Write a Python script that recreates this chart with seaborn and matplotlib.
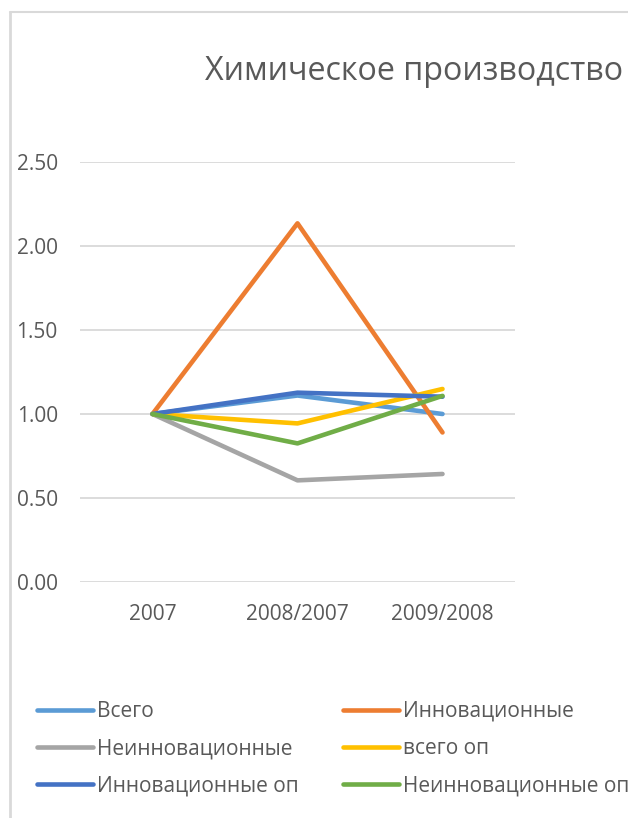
import matplotlib.pyplot as plt
import seaborn as sns
import pandas as pd
from matplotlib.lines import Line2D

# periods on the x axis
periods = ['2007', '2008/2007', '2009/2008']

# series values (indices)
vsego = [1.00, 1.11, 1.00]
innov = [1.00, 2.135, 0.89]
neinnov = [1.00, 0.605, 0.643]
vsego_op = [1.00, 0.944, 1.149]
innov_op = [1.00, 1.127, 1.103]
neinnov_op = [1.00, 0.825, 1.108]

series_names = ['Всего', 'Инновационные', 'Неинновационные',
                'всего оп', 'Инновационные оп', 'Неинновационные оп']
series_vals = [vsego, innov, neinnov, vsego_op, innov_op, neinnov_op]
colors = ['#5B9BD5', '#ED7D31', '#A5A5A5', '#FFC000', '#4472C4', '#70AD47']

rows = []
for name, vals in zip(series_names, series_vals):
    for i, v in enumerate(vals):
        rows.append({'period': i, 'series': name, 'value': v})
df = pd.DataFrame(rows)

sns.set_style('white')
plt.rcParams['font.family'] = ['Open Sans', 'DejaVu Sans']
text_col = '#595959'

fig = plt.figure(figsize=(6.28, 8.18), dpi=100)
ax = fig.add_axes([80 / 628, 1 - 582 / 818, 435 / 628, 420 / 818])

sns.lineplot(data=df, x='period', y='value', hue='series', hue_order=series_names,
             palette=colors, linewidth=3.3, solid_capstyle='round',
             legend=False, ax=ax, zorder=3)

ax.set_xlim(-0.5, 2.5)
ax.set_ylim(0, 2.5)
ax.set_yticks([0, 0.5, 1.0, 1.5, 2.0, 2.5])
ax.set_yticklabels([f'{t:.2f}' for t in [0, 0.5, 1.0, 1.5, 2.0, 2.5]])
ax.set_xticks(range(len(periods)))
ax.set_xticklabels(periods)
ax.grid(axis='y', color='#D9D9D9', linewidth=1.3)
ax.grid(axis='x', visible=False)
for s in ax.spines.values():
    s.set_visible(False)
ax.tick_params(axis='both', length=0, labelsize=15, labelcolor=text_col)
ax.tick_params(axis='y', pad=16)
ax.tick_params(axis='x', pad=16)
ax.set_xlabel('')
ax.set_ylabel('')

fig.text(205 / 628, 1 - 71 / 818, 'Химическое производство', fontsize=23.2,
         color=text_col, ha='left', va='center')

# legend, row-major like the original
handles = [Line2D([], [], color=c, linewidth=3.3, solid_capstyle='round') for c in colors]
order = [0, 2, 4, 1, 3, 5]
fig.legend([handles[i] for i in order], [series_names[i] for i in order],
           loc='upper left', bbox_to_anchor=(37 / 628, 1 - 701 / 818), ncol=2,
           frameon=False, fontsize=15, handlelength=2.7, handletextpad=0.2,
           columnspacing=2.1, labelspacing=0.77, labelcolor=text_col,
           borderpad=0, borderaxespad=0)

# chart border pieces visible in the crop
fig.add_artist(Line2D([10 / 628, 10 / 628], [0, 1 - 12 / 818], color='#D9D9D9', linewidth=2))
fig.add_artist(Line2D([10 / 628, 1], [1 - 12 / 818, 1 - 12 / 818], color='#D9D9D9', linewidth=1.5))

fig.savefig('out.png', dpi=100)
